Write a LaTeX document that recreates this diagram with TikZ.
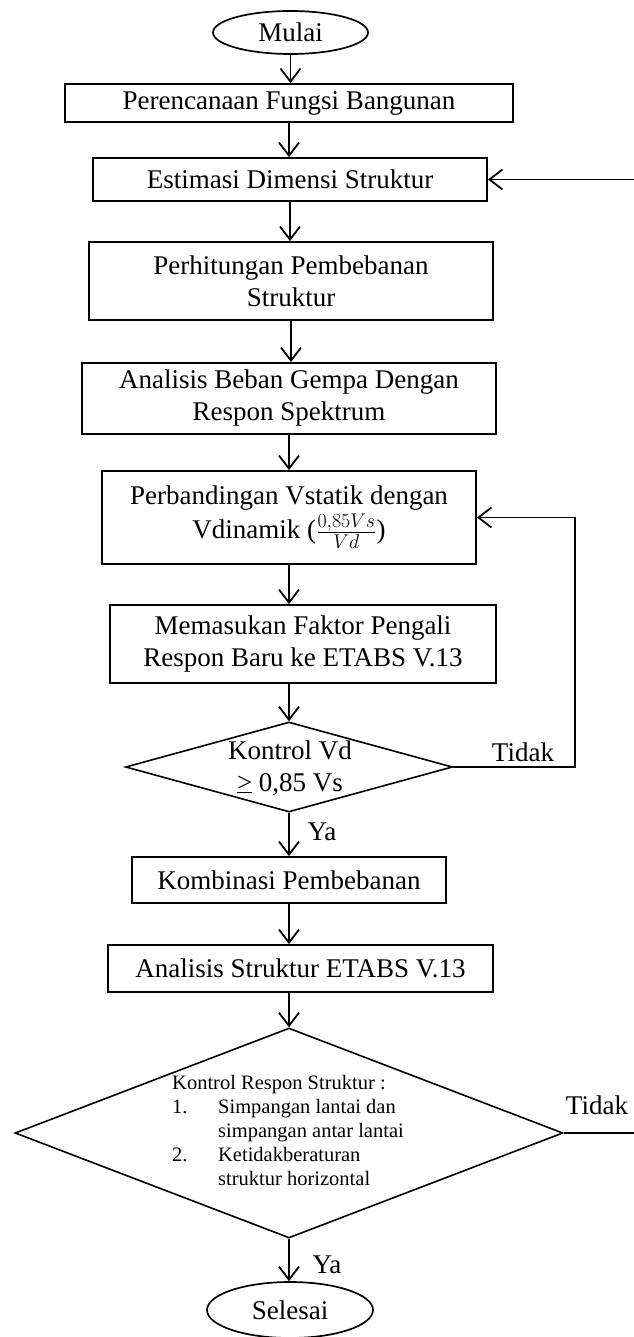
\documentclass[tikz,border=0pt]{standalone}
\usepackage{fontspec}
\setmainfont{Liberation Serif}
\usetikzlibrary{arrows.meta,shapes.geometric}
\newcommand\mainsz{\fontsize{27}{32}\selectfont}
\newcommand\smallsz{\fontsize{20.5}{24}\selectfont}
\tikzset{
  box/.style={draw, line width=1.9pt, inner sep=0pt, align=center, font=\mainsz},
  term/.style={draw, ellipse, line width=1.7pt, inner sep=0pt, font=\mainsz},
  dia/.style={draw, diamond, line width=1.6pt, inner sep=0pt},
  txt/.style={inner sep=0pt, align=center, font=\mainsz},
  lbl/.style={inner sep=0pt, font=\mainsz},
  arr/.style={line width=1.8pt, -{Straight Barb[length=13pt,width=20pt,line width=1.8pt]}},
  ln/.style={line width=1.8pt}
}
\begin{document}
\begin{tikzpicture}[x=1pt,y=-1pt]
\useasboundingbox (0,0) rectangle (633,1337);
\node[term, minimum width=155pt, minimum height=43pt] (mul) at (290.5,32.5) {Mulai};
\node[box, minimum width=448pt, minimum height=38pt] (per) at (289,103) {Perencanaan Fungsi Bangunan};
\node[box, minimum width=394pt, minimum height=43pt] (est) at (290,179.5) {Estimasi Dimensi Struktur};
\node[box, minimum width=404pt, minimum height=78pt] (hit) at (291,281) {Perhitungan Pembebanan\\Struktur};
\node[box, minimum width=414pt, minimum height=71pt] (agb) at (289,398.5) {Analisis Beban Gempa Dengan\\Respon Spektrum};
\node[box, minimum width=374pt, minimum height=93pt] (vsd) at (289,517.5) {Perbandingan Vstatik dengan\\[2pt]Vdinamik (\scalebox{1.15}{$\frac{0{,}85Vs}{Vd}$})};
\node[box, minimum width=386pt, minimum height=78pt] (mem) at (303,644) {Memasukan Faktor Pengali\\Respon Baru ke ETABS V.13};
\node[dia, minimum width=327pt, minimum height=90pt] (d1) at (289,767) {};
\node[txt] (d1t) at (290,768) {Kontrol Vd\\\underline{>} 0,85 Vs};
\node[box, minimum width=314pt, minimum height=46pt] (kom) at (289,880) {Kombinasi Pembebanan};
\node[box, minimum width=385pt, minimum height=47pt] (ast) at (300.5,968.5) {Analisis Struktur ETABS V.13};
\node[dia, minimum width=548pt, minimum height=210pt] (d2) at (289,1133) {};
\node[inner sep=0pt, anchor=west, font=\smallsz] (d2t) at (172,1133) {%
  \begin{tabular}{@{}p{46pt}@{}l@{}}
  \multicolumn{2}{@{}l@{}}{Kontrol Respon Struktur :}\\
  1. & Simpangan lantai dan\\
     & simpangan antar lantai\\
  2. & Ketidakberaturan\\
     & struktur horizontal
  \end{tabular}};
\node[term, minimum width=166pt, minimum height=56pt] (sel) at (290,1310) {Selesai};
% labels
\node[lbl] (tidak1) at (523,752) {Tidak};
\node[lbl] (ya1) at (322,832) {Ya};
\node[lbl] (tidak2) at (597,1105) {Tidak};
\node[lbl] (ya2) at (327,1265) {Ya};
% helper coordinates
\coordinate (fb) at (575,0);
\coordinate (edge1) at (640,179.5);
\coordinate (edge2) at (640,1133);
% main flow
\draw[arr] (mul.south) -- (mul.south |- per.north);
\draw[arr] (per.south) -- (per.south |- est.north);
\draw[arr] (est.south) -- (est.south |- hit.north);
\draw[arr] (hit.south) -- (hit.south |- agb.north);
\draw[arr] (agb.south) -- (agb.south |- vsd.north);
\draw[arr] (vsd.south) -- (vsd.south |- mem.north);
\draw[arr] (mem.south -| d1.north) -- (d1.north);
\draw[arr] (d1.south) -- (d1.south |- kom.north);
\draw[arr] (kom.south) -- (kom.south |- ast.north);
\draw[arr] (ast.south -| d2.north) -- (d2.north);
\draw[arr] (d2.south) -- (d2.south |- sel.north);
% feedback loops
\draw[arr] (d1.east) -- (d1.east -| fb) -- (vsd.east -| fb) -- (vsd.east);
\draw[arr] (edge1) -- (est.east);
\draw[ln] (d2.east) -- (edge2);
\end{tikzpicture}
\end{document}
